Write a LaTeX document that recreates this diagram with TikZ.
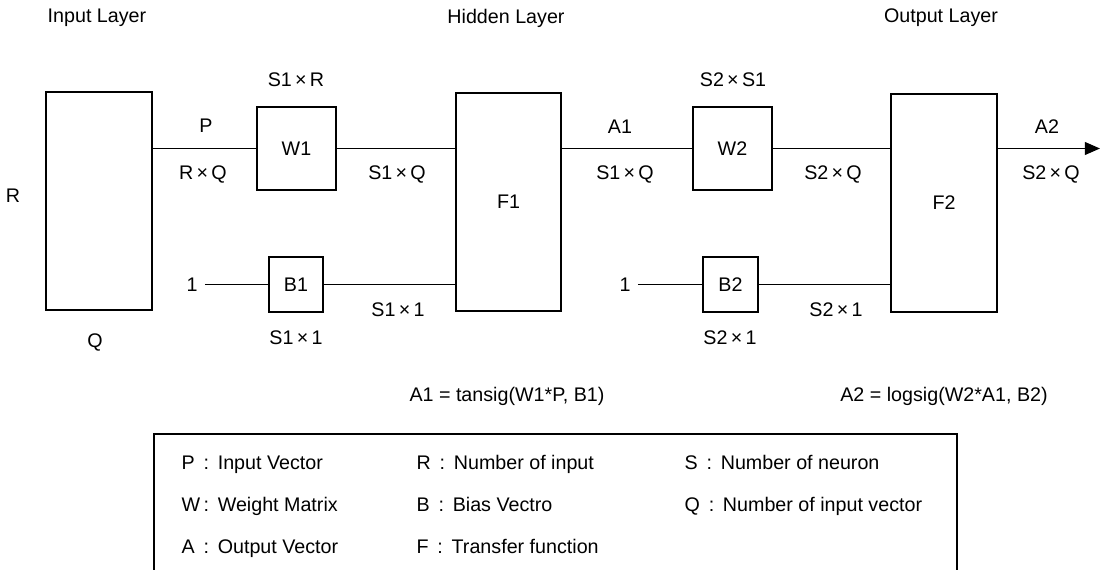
\documentclass[tikz,border=0pt]{standalone}
\usepackage{fontspec}
\setmainfont{Liberation Sans}
\usetikzlibrary{arrows.meta}
\begin{document}
\begin{tikzpicture}[x=0.025cm,y=-0.025cm,
    txt/.style={inner sep=1pt,font=\fontsize{14}{16}\selectfont},
    blk/.style={draw,line width=1.3pt,inner sep=0pt,font=\fontsize{14}{16}\selectfont},
    tall/.style={blk,minimum width=2.63cm,minimum height=5.45cm},
    wbox/.style={blk,minimum width=1.975cm,minimum height=2.08cm},
    bbox/.style={blk,minimum width=1.37cm,minimum height=1.37cm},
    wire/.style={line width=1.3pt},
    key/.style={txt,anchor=west,text height=0.75em,text depth=0.22em}]
    \useasboundingbox (0,0) rectangle (1107,570);
    % layer titles
    \node [txt] (inlayer) at (97,18) {Input Layer};
    \node [txt] (hidlayer) at (506,18) {Hidden Layer};
    \node [txt] (outlayer) at (941,18) {Output Layer};
    % blocks
    \node [tall] (inp) at (99,201) {};
    \node [wbox] (w1) at (296.5,148.5) {W1};
    \node [bbox] (b1) at (296,284.5) {B1};
    \node [tall] (f1) at (508.5,202) {F1};
    \node [wbox] (w2) at (732.5,148.5) {W2};
    \node [bbox] (b2) at (730.5,284.5) {B2};
    \node [tall] (f2) at (944,203) {F2};
    \node [txt,inner sep=5pt] (one1) at (192,284.5) {1};
    \node [txt,inner sep=5pt] (one2) at (625,284.5) {1};
    \coordinate (out) at (1100,148.5);
    % lines
    \draw [wire] (inp.east |- w1.west) -- (w1.west);
    \draw [wire] (w1.east) -- (w1.east -| f1.west);
    \draw [wire] (one1.east) -- (b1.west);
    \draw [wire] (b1.east) -- (b1.east -| f1.west);
    \draw [wire] (f1.east |- w2.west) -- (w2.west);
    \draw [wire] (w2.east) -- (w2.east -| f2.west);
    \draw [wire] (one2.east) -- (b2.west);
    \draw [wire] (b2.east) -- (b2.east -| f2.west);
    \draw [wire,-{Triangle[length=0.38cm,width=0.32cm]}] (f2.east |- out) -- (out);
    % sizes
    \node [txt] (rlbl) at (13,196) {R};
    \node [txt] (qlbl) at (95,342) {Q};
    \node [txt] (plbl) at (206,126) {P};
    \node [txt] (rq) at (203,174) {R\,×\,Q};
    \node [txt] (s1r) at (296,80) {S1\,×\,R};
    \node [txt] (s1q) at (397,174) {S1\,×\,Q};
    \node [txt] (s1one) at (296,338) {S1\,×\,1};
    \node [txt] (s1onel) at (398,310) {S1\,×\,1};
    \node [txt] (a1lbl) at (620,127) {A1};
    \node [txt] (s1qb) at (625,174) {S1\,×\,Q};
    \node [txt] (s2s1) at (733,80) {S2\,×\,S1};
    \node [txt] (s2q) at (833,174) {S2\,×\,Q};
    \node [txt] (s2one) at (730,338) {S2\,×\,1};
    \node [txt] (s2onel) at (836,310) {S2\,×\,1};
    \node [txt] (a2lbl) at (1047,127) {A2};
    \node [txt] (s2qb) at (1051,174) {S2\,×\,Q};
    % equations
    \node [txt] (eqone) at (507,396) {A1 = tansig(W1*P, B1)};
    \node [txt] (eqtwo) at (944,396) {A2 = logsig(W2*A1, B2)};
    % legend
    \coordinate (lgbl) at (154,570);
    \coordinate (lgtl) at (154,434);
    \coordinate (lgtr) at (957,434);
    \coordinate (lgbr) at (957,570);
    \draw [wire] (lgbl) -- (lgtl) -- (lgtr) -- (lgbr);
    \node [key] (kp) at (180,466) {P \,:\, Input Vector};
    \node [key] (kw) at (180,508) {W\,:\, Weight Matrix};
    \node [key] (ka) at (180,550) {A \,:\, Output Vector};
    \node [key] (kr) at (415,466) {R \,:\, Number of input};
    \node [key] (kb) at (415,508) {B \,:\, Bias Vectro};
    \node [key] (kf) at (415,550) {F \,:\, Transfer function};
    \node [key] (ks) at (683,466) {S \,:\, Number of neuron};
    \node [key] (kq) at (683,508) {Q \,:\, Number of input vector};
\end{tikzpicture}
\end{document}
